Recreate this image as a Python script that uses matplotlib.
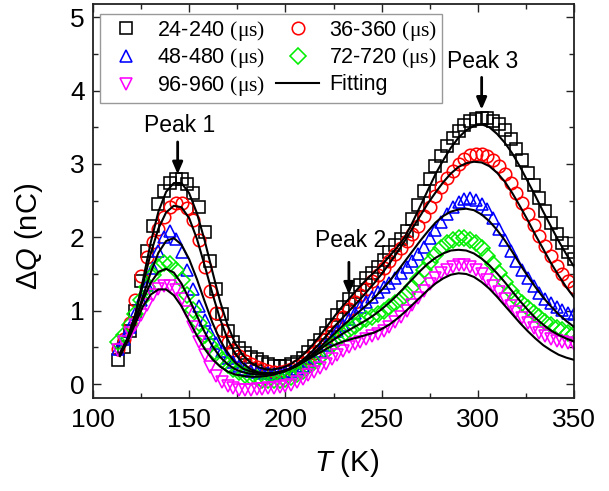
import numpy as np
import matplotlib
matplotlib.use("Agg")
import matplotlib.pyplot as plt
from matplotlib.lines import Line2D

plt.rcParams['font.family'] = ['Liberation Sans', 'DejaVu Sans']
plt.rcParams['mathtext.fontset'] = 'custom'
plt.rcParams['mathtext.rm'] = 'Liberation Serif'
plt.rcParams['mathtext.it'] = 'Liberation Sans:italic'
plt.rcParams['mathtext.sf'] = 'Liberation Sans'

# Temperature grid of the measured points (K)
T = np.arange(113, 351, 3)
# Temperature grid of the fitted curves (K)
T_fit = np.arange(114, 351, 4)

# Measured Delta Q (nC) for each pulse-width series
q_24 = [0.33, 0.50, 0.72, 1.00, 1.40, 1.82, 2.15, 2.45, 2.63, 2.74,
        2.79, 2.80, 2.73, 2.61, 2.42, 2.07, 1.68, 1.29, 0.95, 0.72,
        0.58, 0.49, 0.42, 0.37, 0.34, 0.30, 0.27, 0.25, 0.24, 0.25,
        0.27, 0.30, 0.36, 0.44, 0.52, 0.60, 0.70, 0.81, 0.94, 1.05,
        1.16, 1.26, 1.35, 1.44, 1.52, 1.60, 1.69, 1.80, 1.89, 1.98,
        2.09, 2.25, 2.44, 2.63, 2.80, 2.97, 3.11, 3.24, 3.35, 3.45,
        3.53, 3.58, 3.61, 3.62, 3.62, 3.59, 3.54, 3.46, 3.34, 3.20,
        3.05, 2.88, 2.71, 2.53, 2.36, 2.20, 2.05, 1.92, 1.80, 1.70]
q_36 = [0.48, 0.62, 0.83, 1.15, 1.47, 1.73, 1.93, 2.12, 2.28, 2.41,
        2.47, 2.47, 2.40, 2.24, 1.96, 1.60, 1.27, 0.97, 0.74, 0.57,
        0.46, 0.38, 0.32, 0.27, 0.23, 0.20, 0.18, 0.17, 0.17, 0.18,
        0.20, 0.24, 0.29, 0.35, 0.43, 0.52, 0.61, 0.71, 0.81, 0.92,
        1.02, 1.12, 1.21, 1.30, 1.40, 1.49, 1.58, 1.68, 1.77, 1.86,
        1.95, 2.05, 2.16, 2.29, 2.42, 2.56, 2.69, 2.81, 2.91, 3.00,
        3.07, 3.12, 3.14, 3.14, 3.11, 3.06, 2.97, 2.86, 2.74, 2.61,
        2.47, 2.32, 2.17, 2.02, 1.88, 1.74, 1.61, 1.50, 1.40, 1.32]
q_48 = [0.48, 0.62, 0.78, 0.95, 1.14, 1.35, 1.58, 1.82, 2.01, 2.08,
        1.98, 1.80, 1.56, 1.30, 1.06, 0.87, 0.70, 0.56, 0.45, 0.36,
        0.30, 0.25, 0.21, 0.18, 0.16, 0.15, 0.15, 0.14, 0.15, 0.16,
        0.18, 0.21, 0.25, 0.31, 0.37, 0.45, 0.53, 0.62, 0.72, 0.81,
        0.89, 0.97, 1.05, 1.12, 1.19, 1.25, 1.32, 1.38, 1.45, 1.52,
        1.60, 1.68, 1.77, 1.87, 1.99, 2.10, 2.21, 2.32, 2.41, 2.48,
        2.52, 2.53, 2.51, 2.46, 2.38, 2.27, 2.12, 1.97, 1.82, 1.68,
        1.55, 1.44, 1.34, 1.24, 1.16, 1.10, 1.05, 1.01, 0.97, 0.95]
q_72 = [0.57, 0.67, 0.80, 0.96, 1.14, 1.32, 1.49, 1.60, 1.65, 1.64,
        1.56, 1.42, 1.21, 1.01, 0.83, 0.67, 0.53, 0.42, 0.33, 0.26,
        0.20, 0.16, 0.12, 0.10, 0.08, 0.06, 0.05, 0.05, 0.06, 0.07,
        0.10, 0.14, 0.18, 0.24, 0.30, 0.37, 0.45, 0.53, 0.60, 0.67,
        0.73, 0.79, 0.84, 0.88, 0.92, 0.96, 1.00, 1.05, 1.10, 1.16,
        1.23, 1.32, 1.43, 1.55, 1.66, 1.76, 1.85, 1.92, 1.96, 1.99,
        1.99, 1.97, 1.92, 1.85, 1.75, 1.64, 1.52, 1.39, 1.27, 1.17,
        1.10, 1.03, 0.97, 0.91, 0.85, 0.80, 0.76, 0.73, 0.70, 0.68]
q_96 = [0.47, 0.57, 0.69, 0.80, 0.94, 1.08, 1.22, 1.30, 1.33, 1.33,
        1.28, 1.16, 0.98, 0.78, 0.57, 0.39, 0.23, 0.11, 0.03, -0.03,
        -0.06, -0.08, -0.08, -0.08, -0.07, -0.07, -0.06, -0.05, -0.04, -0.03,
        -0.01, 0.03, 0.07, 0.12, 0.17, 0.22, 0.28, 0.34, 0.40, 0.45,
        0.50, 0.54, 0.57, 0.61, 0.65, 0.68, 0.72, 0.78, 0.84, 0.91,
        0.99, 1.08, 1.17, 1.27, 1.36, 1.44, 1.51, 1.56, 1.60, 1.62,
        1.62, 1.60, 1.56, 1.50, 1.42, 1.34, 1.25, 1.16, 1.07, 0.98,
        0.90, 0.83, 0.76, 0.70, 0.66, 0.62, 0.59, 0.57, 0.56, 0.55]

# Fitted curves (nC)
f_24 = [0.40, 0.62, 0.95, 1.42, 1.93, 2.35, 2.62, 2.74, 2.74, 2.60,
        2.33, 1.96, 1.54, 1.13, 0.80, 0.55, 0.39, 0.29, 0.23, 0.20,
        0.20, 0.22, 0.26, 0.33, 0.42, 0.53, 0.66, 0.80, 0.94, 1.07,
        1.19, 1.31, 1.42, 1.52, 1.62, 1.74, 1.86, 2.00, 2.20, 2.42,
        2.64, 2.86, 3.05, 3.22, 3.36, 3.46, 3.52, 3.54, 3.50, 3.41,
        3.29, 3.14, 2.96, 2.76, 2.56, 2.35, 2.15, 1.95, 1.77, 1.60]
f_36 = [0.42, 0.63, 0.95, 1.36, 1.78, 2.12, 2.34, 2.43, 2.41, 2.26,
        1.98, 1.62, 1.24, 0.89, 0.61, 0.41, 0.28, 0.20, 0.16, 0.15,
        0.15, 0.17, 0.21, 0.27, 0.35, 0.45, 0.56, 0.68, 0.80, 0.91,
        1.02, 1.13, 1.25, 1.37, 1.50, 1.64, 1.79, 1.95, 2.12, 2.29,
        2.46, 2.61, 2.75, 2.87, 2.96, 3.01, 3.03, 3.02, 2.97, 2.88,
        2.76, 2.60, 2.42, 2.23, 2.03, 1.84, 1.65, 1.48, 1.32, 1.18]
f_48 = [0.40, 0.60, 0.88, 1.20, 1.52, 1.79, 1.95, 1.99, 1.90, 1.70,
        1.43, 1.13, 0.84, 0.60, 0.42, 0.29, 0.21, 0.17, 0.15, 0.14,
        0.15, 0.17, 0.20, 0.25, 0.32, 0.41, 0.50, 0.60, 0.70, 0.80,
        0.89, 0.98, 1.07, 1.17, 1.28, 1.40, 1.53, 1.67, 1.81, 1.95,
        2.08, 2.20, 2.29, 2.35, 2.38, 2.39, 2.37, 2.31, 2.22, 2.10,
        1.96, 1.80, 1.63, 1.47, 1.32, 1.18, 1.06, 0.95, 0.86, 0.78]
f_72 = [0.40, 0.60, 0.87, 1.15, 1.38, 1.53, 1.57, 1.52, 1.37, 1.16,
        0.93, 0.71, 0.52, 0.37, 0.27, 0.20, 0.16, 0.14, 0.13, 0.13,
        0.14, 0.16, 0.20, 0.25, 0.31, 0.39, 0.47, 0.55, 0.62, 0.69,
        0.75, 0.81, 0.87, 0.94, 1.02, 1.11, 1.21, 1.32, 1.43, 1.54,
        1.64, 1.72, 1.78, 1.82, 1.83, 1.82, 1.78, 1.71, 1.62, 1.51,
        1.39, 1.26, 1.13, 1.01, 0.90, 0.81, 0.73, 0.67, 0.62, 0.58]
f_96 = [0.38, 0.58, 0.83, 1.06, 1.22, 1.29, 1.29, 1.21, 1.06, 0.86,
        0.66, 0.48, 0.34, 0.24, 0.17, 0.13, 0.11, 0.10, 0.10, 0.11,
        0.13, 0.16, 0.20, 0.25, 0.31, 0.37, 0.43, 0.49, 0.54, 0.58,
        0.61, 0.64, 0.67, 0.70, 0.75, 0.81, 0.89, 0.98, 1.08, 1.18,
        1.28, 1.37, 1.44, 1.49, 1.51, 1.50, 1.46, 1.39, 1.30, 1.19,
        1.07, 0.95, 0.83, 0.72, 0.62, 0.53, 0.46, 0.40, 0.36, 0.33]

labels = ['24-240', '36-360', '48-480', '72-720', '96-960']
colors = ['#000000', '#FF0000', '#0000FF', '#00EE00', '#FF00FF']
markers = ['s', 'o', '^', 'D', 'v']
msizes = [8.5, 9.0, 9.0, 7.8, 9.0]
series = [q_24, q_36, q_48, q_72, q_96]
fits = [f_24, f_36, f_48, f_72, f_96]

# Peak annotations
peak_names = ['Peak 1', 'Peak 2', 'Peak 3']
peak_text_T = [145.0, 234.0, 302.5]
peak_text_Q = [3.53, 1.95, 4.40]
peak_arrow_T = [144.0, 233.0, 302.0]
peak_arrow_tail = [3.30, 1.66, 4.18]
peak_arrow_tip = [2.86, 1.22, 3.74]

fig = plt.figure(figsize=(6.09, 4.91), dpi=100)
ax = fig.add_axes([93/609, (491-398)/491, 481/609, 394/491])

handles = []
for q, c, m, ms, lab in zip(series, colors, markers, msizes, labels):
    h, = ax.plot(T, q, linestyle='none', marker=m, markersize=ms, markerfacecolor='none',
                 markeredgecolor=c, markeredgewidth=1.15, zorder=2,
                 label=lab + r' $\mathrm{(\mu s)}$')
    handles.append(h)
for f in fits:
    ax.plot(T_fit, f, color='black', lw=1.5, zorder=3)
fit_handle = Line2D([], [], color='black', lw=1.5, label='Fitting')

order = [handles[0], handles[2], handles[4], handles[1], handles[3], fit_handle]
leg = ax.legend(handles=order, ncol=2, loc='upper left', bbox_to_anchor=(0.014, 0.975),
                fontsize=15.5, numpoints=1, handlelength=2.0, handletextpad=0.45,
                columnspacing=0.5, labelspacing=0.18, borderpad=0.22, borderaxespad=0.0,
                fancybox=False, framealpha=1.0, edgecolor='#999999')
leg.get_frame().set_linewidth(1.0)

for name, tx, ty, atx, a0, a1 in zip(peak_names, peak_text_T, peak_text_Q, peak_arrow_T,
                                     peak_arrow_tail, peak_arrow_tip):
    ax.text(tx, ty, name, fontsize=16.5, ha='center', va='center', zorder=5)
    ax.annotate('', xy=(atx, a1), xytext=(atx, a0),
                arrowprops=dict(arrowstyle='-|>,head_width=0.3,head_length=0.7',
                                lw=2.0, color='black', shrinkA=0, shrinkB=0), zorder=5)

ax.set_xlim(100, 350)
ax.set_ylim(-0.19, 5.18)
ax.set_xticks([100, 150, 200, 250, 300, 350])
ax.set_xticks([125, 175, 225, 275, 325], minor=True)
ax.set_yticks([0, 1, 2, 3, 4, 5])
ax.set_yticks([0.5, 1.5, 2.5, 3.5, 4.5], minor=True)
ax.tick_params(which='both', direction='in', top=True, right=True, labelsize=19,
               color='#222222', width=1.0)
ax.tick_params(which='major', length=6)
ax.tick_params(which='minor', length=3.5)
ax.tick_params(axis='x', pad=7)
ax.tick_params(axis='y', pad=6)
for sp in ax.spines.values():
    sp.set_linewidth(1.3)
    sp.set_color('#222222')

ax.set_xlabel(r'$T$ (K)', fontsize=21)
ax.set_ylabel('Δ' + r'$Q$ (nC)', fontsize=21)
ax.xaxis.set_label_coords(0.528, -0.125)
ax.yaxis.set_label_coords(-0.1, 0.41)

fig.savefig('out.png', dpi=100)
